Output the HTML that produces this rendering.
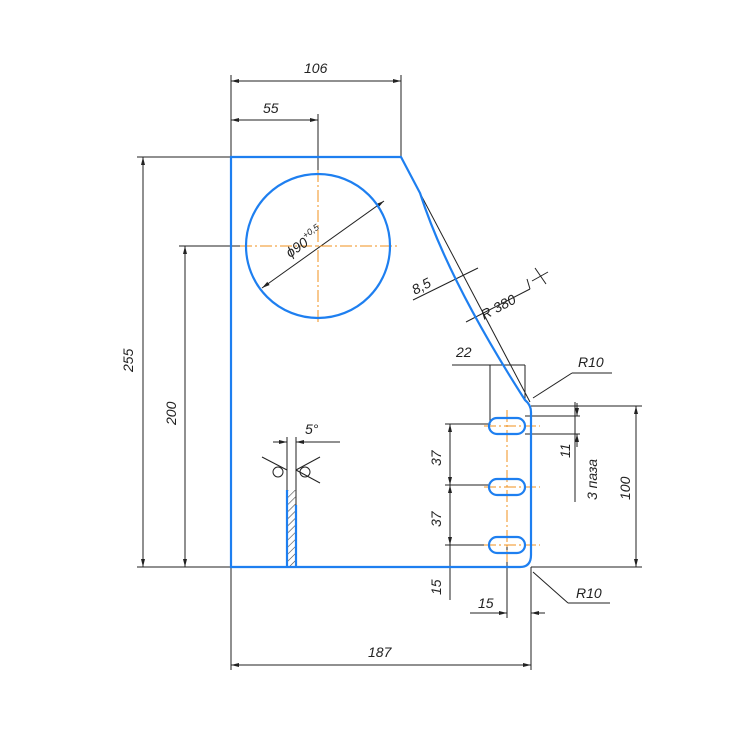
<!DOCTYPE html>
<html><head><style>body{margin:0;background:#fff}svg{display:block}text{font-family:"Liberation Sans",sans-serif;font-style:italic;font-size:14px;fill:#222}</style></head><body>
<svg width="738" height="737" viewBox="0 0 738 737" xmlns="http://www.w3.org/2000/svg">
<defs><marker id="a" markerWidth="8" markerHeight="6" refX="8" refY="3" orient="auto-start-reverse"><path d="M0,1 L8,3 L0,5z" fill="#222"/></marker>
<pattern id="h" width="5" height="5" patternUnits="userSpaceOnUse" patternTransform="rotate(45)"><line x1="0" y1="0" x2="0" y2="5" stroke="#444" stroke-width="1.2"/></pattern></defs>
<g stroke="#222" stroke-width="1" fill="none">
<!-- extension lines -->
<line x1="231" y1="75" x2="231" y2="157"/><line x1="401" y1="75" x2="401" y2="157"/>
<line x1="318" y1="114" x2="318" y2="174"/>
<line x1="137" y1="157" x2="231" y2="157"/><line x1="137" y1="567" x2="231" y2="567"/>
<line x1="179" y1="246" x2="246" y2="246"/>
<line x1="231" y1="567" x2="231" y2="670"/><line x1="531" y1="567" x2="531" y2="670"/>
<!-- dims -->
<line x1="231" y1="81" x2="401" y2="81" marker-start="url(#a)" marker-end="url(#a)"/>
<line x1="231" y1="120" x2="318" y2="120" marker-start="url(#a)" marker-end="url(#a)"/>
<line x1="143" y1="157" x2="143" y2="567" marker-start="url(#a)" marker-end="url(#a)"/>
<line x1="185" y1="246" x2="185" y2="567" marker-start="url(#a)" marker-end="url(#a)"/>
<line x1="231" y1="665" x2="531" y2="665" marker-start="url(#a)" marker-end="url(#a)"/>
<line x1="262" y1="288" x2="384" y2="201" marker-start="url(#a)" marker-end="url(#a)"/>
<!-- 380 -->
<line x1="401" y1="157" x2="530" y2="402"/>
<line x1="413" y1="300" x2="478" y2="268"/><line x1="466" y1="322" x2="530" y2="289"/>
<line x1="530" y1="289" x2="527" y2="279"/><line x1="535" y1="268" x2="546" y2="284"/><line x1="532" y1="281" x2="548" y2="272"/>
<line x1="452" y1="365" x2="525" y2="365"/><line x1="490" y1="365" x2="490" y2="425"/><line x1="525" y1="365" x2="525" y2="400"/>
<line x1="533" y1="398" x2="572" y2="373"/><line x1="572" y1="373" x2="612" y2="373"/>
<line x1="533" y1="572" x2="568" y2="603"/><line x1="568" y1="603" x2="610" y2="603"/>
<!-- right dims -->
<line x1="531" y1="406" x2="642" y2="406"/><line x1="531" y1="567" x2="642" y2="567"/>
<line x1="636" y1="406" x2="636" y2="567" marker-start="url(#a)" marker-end="url(#a)"/>
<line x1="525" y1="416" x2="580" y2="416"/><line x1="525" y1="434" x2="580" y2="434"/>
<line x1="577" y1="403" x2="577" y2="416" marker-end="url(#a)"/><line x1="577" y1="447" x2="577" y2="434" marker-end="url(#a)"/>
<line x1="575" y1="502" x2="575" y2="402"/>
<!-- left slot dims -->
<line x1="445" y1="424" x2="489" y2="424"/><line x1="445" y1="485" x2="489" y2="485"/><line x1="445" y1="545" x2="489" y2="545"/>
<line x1="450" y1="424" x2="450" y2="485" marker-start="url(#a)" marker-end="url(#a)"/>
<line x1="450" y1="485" x2="450" y2="545" marker-start="url(#a)" marker-end="url(#a)"/>
<line x1="450" y1="545" x2="450" y2="600"/>
<line x1="450" y1="567" x2="450" y2="567"/>
<line x1="507" y1="545" x2="507" y2="618"/><line x1="531" y1="567" x2="531" y2="630"/>
<line x1="470" y1="613" x2="507" y2="613" marker-end="url(#a)"/><line x1="545" y1="613" x2="531" y2="613" marker-end="url(#a)"/>
<!-- weld -->
<line x1="287" y1="437" x2="287" y2="490"/><line x1="296" y1="437" x2="296" y2="505"/>
<line x1="273" y1="442" x2="287" y2="442" marker-end="url(#a)"/><line x1="310" y1="442" x2="296" y2="442" marker-end="url(#a)"/>
<line x1="296" y1="442" x2="340" y2="442"/>
<line x1="262" y1="457" x2="287" y2="470"/><line x1="296" y1="470" x2="320" y2="483"/>
<line x1="320" y1="457" x2="296" y2="470"/>
<circle cx="278" cy="472" r="5"/><circle cx="305" cy="472" r="5"/>
</g>
<rect x="287" y="490" width="9" height="77" fill="url(#h)"/>
<g stroke="#f0901e" stroke-width="1" stroke-dasharray="12,3,2,3" fill="none">
<line x1="240" y1="246" x2="400" y2="246"/><line x1="318" y1="170" x2="318" y2="322"/>
<line x1="507" y1="410" x2="507" y2="562"/>
<line x1="484" y1="426" x2="540" y2="426"/><line x1="484" y1="487" x2="540" y2="487"/><line x1="484" y1="545" x2="540" y2="545"/>
</g>
<g stroke="#1e7ff0" stroke-width="2.2" fill="none">
<path d="M231,157 L401,157 L420,193 Q448,280 525,400 Q531,405 531,412 L531,555 Q531,567 520,567 L231,567 Z"/>
<circle cx="318" cy="246" r="72"/>
<rect x="489" y="418" width="36" height="16" rx="8"/>
<rect x="489" y="479" width="36" height="16" rx="8"/>
<rect x="489" y="537" width="36" height="16" rx="8"/>
<line x1="287" y1="490" x2="287" y2="567"/><line x1="296" y1="505" x2="296" y2="567"/>
</g>
<text x="304" y="73">106</text><text x="263" y="113">55</text>
<text transform="translate(133,372) rotate(-90)">255</text>
<text transform="translate(176,425) rotate(-90)">200</text>
<text x="368" y="657">187</text>
<text transform="translate(290,258) rotate(-35)">ϕ90<tspan font-size="9" dy="-7">+0,5</tspan></text>
<text transform="translate(415,295) rotate(-28)">8,5</text>
<text transform="translate(484,320) rotate(-28)">R 380</text>
<text x="456" y="357">22</text><text x="578" y="367">R10</text><text x="576" y="598">R10</text>
<text transform="translate(441,466) rotate(-90)">37</text>
<text transform="translate(441,527) rotate(-90)">37</text>
<text transform="translate(441,595) rotate(-90)">15</text>
<text x="478" y="608">15</text>
<text transform="translate(570,458) rotate(-90)">11</text>
<text transform="translate(597,500) rotate(-90)">3 паза</text>
<text transform="translate(630,500) rotate(-90)">100</text>
<text x="305" y="434">5°</text>
</svg>
</body></html>
